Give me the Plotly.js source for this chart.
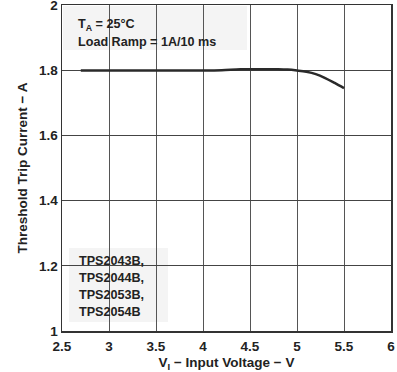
<!DOCTYPE html>
<html>
<head>
<meta charset="utf-8">
<script src="https://cdn.plot.ly/plotly-3.0.1.min.js"></script>
<style>html,body{margin:0;padding:0;background:#fff;}#chart{width:397px;height:372px;}</style>
</head>
<body>
<div id="chart"></div>
<script>
var inputVoltage = [2.7, 3.0, 3.5, 4.0, 4.2, 4.4, 4.6, 4.8, 4.9, 5.0, 5.1, 5.2, 5.3, 5.4, 5.5];
var tripCurrent  = [1.799, 1.799, 1.799, 1.799, 1.800, 1.803, 1.803, 1.803, 1.802, 1.799, 1.795, 1.788, 1.776, 1.761, 1.745];
var xTicks = [2.5, 3, 3.5, 4, 4.5, 5, 5.5, 6];
var yTicks = [1, 1.2, 1.4, 1.6, 1.8, 2];
var yTickLabels = ['1', '1.2', '1.4', '1.6', '1.8', '2'];
var conditionLines = ['T<sub>A</sub> = 25°C', 'Load Ramp = 1A/10 ms'];
var deviceLines = ['TPS2043B,', 'TPS2044B,', 'TPS2053B,', 'TPS2054B'];

var fontFam = 'Liberation Sans, Arial, sans-serif';
var txt = '#222';
var W = 397, H = 372, M = {l: 62, r: 6, t: 5, b: 41};
var pw = W - M.l - M.r, ph = H - M.t - M.b;
function px(x) { return (x - M.l) / pw; }
function py(y) { return 1 - (y - M.t) / ph; }

var trace = {
  x: inputVoltage, y: tripCurrent, type: 'scatter', mode: 'lines',
  line: {color: '#2a2a2a', width: 2.5, shape: 'spline'}, hoverinfo: 'none'
};

var annFont = {size: 12.6, family: fontFam, color: txt, weight: 'bold'};
var annotations = [];
conditionLines.forEach(function (t, i) {
  annotations.push({xref: 'paper', yref: 'paper', x: px(76), y: py(25 + 17 * i),
    xanchor: 'left', yanchor: 'middle', align: 'left', showarrow: false, text: t, font: annFont});
});
deviceLines.forEach(function (t, i) {
  annotations.push({xref: 'paper', yref: 'paper', x: px(77), y: py(261 + 17 * i),
    xanchor: 'left', yanchor: 'middle', align: 'left', showarrow: false, text: t, font: annFont});
});

var layout = {
  width: W, height: H,
  margin: M,
  paper_bgcolor: '#fff', plot_bgcolor: '#fff',
  showlegend: false,
  font: {family: fontFam, color: txt},
  xaxis: {
    range: [2.5, 6], tickmode: 'array', tickvals: xTicks,
    ticktext: xTicks.map(String),
    showgrid: true, gridcolor: '#555', gridwidth: 1,
    showline: true, linecolor: '#333', linewidth: 1.5, mirror: true,
    ticks: '', zeroline: false, ticklabelstandoff: 2, ticklabeloverflow: 'allow',
    tickfont: {size: 13.5, family: fontFam, color: txt, weight: 'bold'},
    title: {text: 'V<sub>I</sub> − Input Voltage − V', font: {size: 13.5, family: fontFam, color: txt, weight: 'bold'}, standoff: 5}
  },
  yaxis: {
    range: [1, 2], tickmode: 'array', tickvals: yTicks, ticktext: yTickLabels,
    showgrid: true, gridcolor: '#444', gridwidth: 1,
    showline: true, linecolor: '#333', linewidth: 1.5, mirror: true,
    ticks: '', zeroline: false, ticklabeloverflow: 'allow',
    tickfont: {size: 13.5, family: fontFam, color: txt, weight: 'bold'},
    title: {text: 'Threshold Trip Current − A', font: {size: 13.5, family: fontFam, color: txt, weight: 'bold'}, standoff: 8}
  },
  shapes: [
    {type: 'rect', xref: 'paper', yref: 'paper', layer: 'between',
     x0: px(63), x1: px(247), y0: py(50), y1: py(6), fillcolor: '#f4f4f4', line: {width: 0}},
    {type: 'rect', xref: 'paper', yref: 'paper', layer: 'between',
     x0: px(69), x1: px(168), y0: py(322), y1: py(248), fillcolor: '#f4f4f4', line: {width: 0}}
  ],
  annotations: annotations
};

Plotly.newPlot('chart', [trace], layout, {staticPlot: true, displayModeBar: false});
</script>
</body>
</html>
